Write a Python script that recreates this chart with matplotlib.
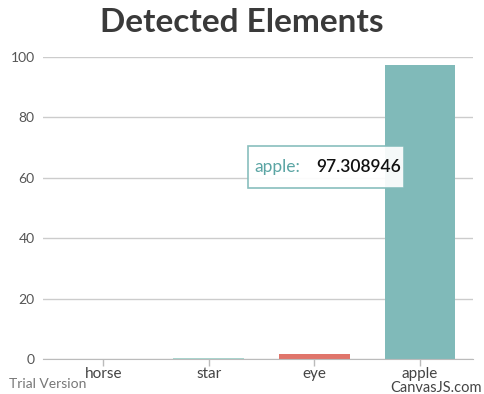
import matplotlib.pyplot as plt
from matplotlib.patches import FancyBboxPatch

# data
categories = ['horse', 'star', 'eye', 'apple']
values = [0.05, 0.35, 1.8, 97.308946]
colors = ['#7FBAB9', '#A9D6CF', '#E0756B', '#80BAB9']
yticks = [0, 20, 40, 60, 80, 100]

plt.rcParams['font.family'] = ['Lato', 'DejaVu Sans']

fig = plt.figure(figsize=(4.84, 3.94), dpi=100)
ax = fig.add_axes([0.0888, 0.0888, 0.888, 0.7665])

x = range(len(categories))
ax.bar(x, values, width=0.67, color=colors, zorder=3)

ax.set_xlim(-0.57, 3.5)
ax.set_ylim(0, 100)
ax.set_yticks(yticks)
ax.set_xticks(list(x))
ax.set_xticklabels(categories, fontsize=11, color='#444444')
ax.tick_params(axis='y', length=0, pad=6, labelsize=10, labelcolor='#555555')
ax.tick_params(axis='x', length=5, width=1, color='#BBBBBB', pad=1)
ax.grid(axis='y', color='#CCCCCC', linewidth=1, zorder=0)
for s in ['top', 'right', 'left']:
    ax.spines[s].set_visible(False)
ax.spines['bottom'].set_color('#BBBBBB')
ax.spines['bottom'].set_zorder(4)

fig.text(0.5, 0.943, 'Detected Elements', ha='center', va='center',
         fontsize=24, fontweight='bold', color='#3A3A3A')
fig.text(0.018, 0.025, 'Trial Version', ha='left', va='center',
         fontsize=10, color='#777777')
fig.text(0.995, 0.015, 'CanvasJS.com', ha='right', va='center',
         fontsize=10.5, color='#444444')

# tooltip
box = FancyBboxPatch((248 / 484, 1 - 188 / 394), 156 / 484, 42 / 394,
                     boxstyle='square,pad=0', transform=fig.transFigure,
                     facecolor='white', edgecolor='#80BAB9', linewidth=1.2,
                     alpha=0.93, zorder=10)
fig.patches.append(box)
fig.text(254 / 484, 1 - 167 / 394, 'apple:', ha='left', va='center',
         fontsize=12.5, color='#5BA5A4', zorder=11)
fig.text(316 / 484, 1 - 167 / 394, '97.308946', ha='left', va='center',
         fontsize=12.5, fontweight='semibold', color='#111111', zorder=11)

fig.savefig('out.png', dpi=100)
